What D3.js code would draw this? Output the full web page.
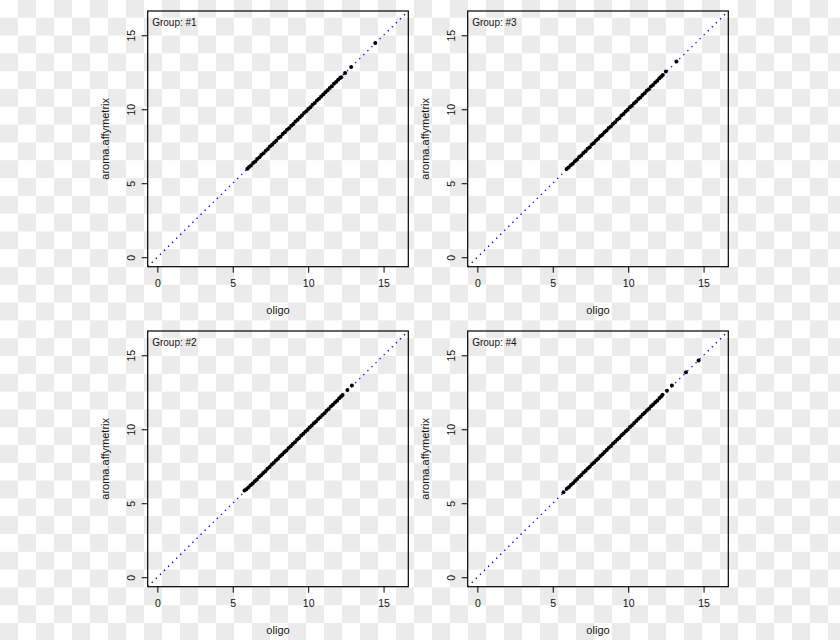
<!DOCTYPE html>
<html>
<head>
<meta charset="utf-8">
<script src="https://cdn.jsdelivr.net/npm/d3@7"></script>
<style>
  html, body { margin: 0; padding: 0; background: #fff; }
  svg { display: block; }
  text { font-family: Arial, "Liberation Sans", sans-serif; fill: #111; }
</style>
</head>
<body>
<div id="chart"></div>
<script>
// ---- data ----
const panelTitles = ["Group: #1", "Group: #3", "Group: #2", "Group: #4"];
const xTitle = "oligo";
const yTitle = "aroma.affymetrix";
const xTicks = [0, 5, 10, 15];
const yTicks = [0, 5, 10, 15];
const axisLimits = [0, 16];

const g1Oligo = [5.97,6.08,6.21,6.35,6.49,6.62,6.77,6.90,7.04,7.19,7.33,7.46,7.61,7.75,7.88,8.03,8.17,8.31,8.45,8.60,8.73,8.88,9.02,9.16,9.30,9.44,9.58,9.73,9.87,10.01,10.15,10.29,10.44,10.58,10.72,10.86,11.00,11.14,11.29,11.43,11.57,11.71,11.85,11.99,12.12,12.19,12.45,12.85,14.45];
const g1Aroma = [5.98,6.10,6.20,6.37,6.47,6.64,6.75,6.92,7.03,7.20,7.31,7.48,7.60,7.76,7.87,8.05,8.15,8.33,8.44,8.61,8.72,8.89,9.01,9.18,9.29,9.45,9.57,9.74,9.86,10.02,10.14,10.30,10.43,10.59,10.71,10.87,10.99,11.15,11.28,11.44,11.56,11.72,11.84,12.00,12.11,12.17,12.45,12.85,14.48];

const g3Oligo = [5.92,6.05,6.19,6.33,6.47,6.61,6.75,6.89,7.03,7.17,7.31,7.45,7.59,7.73,7.87,8.01,8.15,8.29,8.43,8.57,8.71,8.85,8.99,9.13,9.27,9.41,9.55,9.69,9.83,9.97,10.11,10.25,10.39,10.53,10.67,10.81,10.95,11.09,11.23,11.37,11.51,11.65,11.79,11.93,12.07,12.20,12.30,12.50,13.20];
const g3Aroma = [5.97,6.07,6.21,6.32,6.49,6.60,6.77,6.88,7.05,7.16,7.33,7.44,7.61,7.72,7.89,8.00,8.17,8.28,8.45,8.56,8.73,8.84,9.01,9.12,9.29,9.40,9.57,9.68,9.85,9.96,10.13,10.24,10.41,10.52,10.69,10.80,10.97,11.08,11.25,11.36,11.53,11.64,11.81,11.92,12.09,12.21,12.32,12.55,13.22];

const g2Oligo = [5.78,5.90,6.04,6.18,6.32,6.46,6.60,6.74,6.88,7.02,7.16,7.30,7.44,7.58,7.72,7.86,8.00,8.14,8.28,8.42,8.56,8.70,8.84,8.98,9.12,9.26,9.40,9.54,9.68,9.82,9.96,10.10,10.24,10.38,10.52,10.66,10.80,10.94,11.08,11.22,11.36,11.50,11.64,11.78,11.92,12.06,12.18,12.28,12.60,12.90];
const g2Aroma = [5.86,5.94,6.06,6.21,6.33,6.49,6.61,6.77,6.89,7.05,7.17,7.33,7.45,7.61,7.73,7.89,8.01,8.17,8.29,8.45,8.57,8.73,8.85,9.01,9.13,9.29,9.41,9.57,9.69,9.85,9.97,10.13,10.25,10.41,10.53,10.69,10.81,10.97,11.09,11.25,11.37,11.53,11.65,11.81,11.93,12.09,12.21,12.32,12.66,12.96];

const g4Oligo = [5.71,5.93,6.06,6.20,6.34,6.48,6.62,6.76,6.90,7.04,7.18,7.32,7.46,7.60,7.74,7.88,8.02,8.16,8.30,8.44,8.58,8.72,8.86,9.00,9.14,9.28,9.42,9.56,9.70,9.84,9.98,10.12,10.26,10.40,10.54,10.68,10.82,10.96,11.10,11.24,11.38,11.52,11.66,11.80,11.94,12.08,12.20,12.28,12.57,12.90,13.83,14.67];
const g4Aroma = [5.75,5.98,6.08,6.23,6.35,6.51,6.63,6.79,6.91,7.07,7.19,7.35,7.47,7.63,7.75,7.91,8.03,8.19,8.31,8.47,8.59,8.75,8.87,9.03,9.15,9.31,9.43,9.59,9.71,9.87,9.99,10.15,10.27,10.43,10.55,10.71,10.83,10.99,11.11,11.27,11.39,11.55,11.67,11.83,11.95,12.11,12.22,12.33,12.60,12.95,13.86,14.65];

const panelOligo = [g1Oligo, g3Oligo, g2Oligo, g4Oligo];
const panelAroma = [g1Aroma, g3Aroma, g2Aroma, g4Aroma];

// ---- layout ----
const W = 840, H = 640;
const cellW = 320, cellH = 320;
const box = { left: 147.7, top: 11, width: 260.6, height: 255.7 };

const svg = d3.select("#chart").append("svg").attr("width", W).attr("height", H);

// transparent-style checkerboard backdrop
const defs = svg.append("defs");
const pat = defs.append("pattern").attr("id", "checker")
  .attr("patternUnits", "userSpaceOnUse").attr("width", 36).attr("height", 35.6);
pat.append("rect").attr("width", 36).attr("height", 35.6).attr("fill", "#ffffff");
pat.append("rect").attr("x", 18).attr("y", 0).attr("width", 18).attr("height", 17.8).attr("fill", "#ebebeb");
pat.append("rect").attr("x", 0).attr("y", 17.8).attr("width", 18).attr("height", 17.8).attr("fill", "#ebebeb");
svg.append("rect").attr("width", W).attr("height", H).attr("fill", "url(#checker)");

// R-style 4% axis extension
const span = axisLimits[1] - axisLimits[0];
const dom = [axisLimits[0] - 0.04 * span, axisLimits[1] + 0.04 * span];

panelTitles.forEach((title, i) => {
  const col = i % 2, row = Math.floor(i / 2);
  const g = svg.append("g")
    .attr("transform", `translate(${col * cellW + box.left},${row * cellH + box.top})`);

  const x = d3.scaleLinear().domain(dom).range([0, box.width]);
  const y = d3.scaleLinear().domain(dom).range([box.height, 0]);

  const clipId = "clip" + i;
  g.append("clipPath").attr("id", clipId)
    .append("rect").attr("width", box.width).attr("height", box.height);

  const plot = g.append("g").attr("clip-path", `url(#${clipId})`);

  // identity line (abline)
  plot.append("line")
    .attr("x1", x(dom[0])).attr("y1", y(dom[0]))
    .attr("x2", x(dom[1])).attr("y2", y(dom[1]))
    .attr("stroke", "#0000ff").attr("stroke-width", 1.3)
    .attr("stroke-dasharray", "1.4,4.3");

  // points
  const pts = panelOligo[i].map((v, k) => [v, panelAroma[i][k]]);
  plot.selectAll("circle").data(pts).enter().append("circle")
    .attr("cx", d => x(d[0])).attr("cy", d => y(d[1]))
    .attr("r", 2).attr("fill", "#000");

  // frame
  g.append("rect").attr("width", box.width).attr("height", box.height)
    .attr("fill", "none").attr("stroke", "#000").attr("stroke-width", 1.2);

  // x axis
  const xa = g.append("g").attr("transform", `translate(0,${box.height})`)
    .call(d3.axisBottom(x).tickValues(xTicks).tickSize(6).tickPadding(7).tickFormat(d3.format("d")));
  xa.select(".domain").remove();
  xa.selectAll("line").attr("stroke", "#000");
  xa.selectAll("text").attr("font-size", 10.5).attr("fill", "#111")
    .attr("font-family", "Arial, 'Liberation Sans', sans-serif");

  // y axis
  const ya = g.append("g")
    .call(d3.axisLeft(y).tickValues(yTicks).tickSize(6).tickPadding(0).tickFormat(d3.format("d")));
  ya.select(".domain").remove();
  ya.selectAll("line").attr("stroke", "#000");
  ya.selectAll("text").attr("font-size", 10.5).attr("fill", "#111")
    .attr("font-family", "Arial, 'Liberation Sans', sans-serif")
    .attr("text-anchor", "middle")
    .attr("x", null).attr("dy", null)
    .attr("transform", "translate(-16,0) rotate(-90)")
    .attr("y", 0).attr("dy", "0.35em");

  // axis titles
  g.append("text").attr("x", box.width / 2).attr("y", box.height + 47)
    .attr("text-anchor", "middle").attr("font-size", 11).text(xTitle);
  g.append("text")
    .attr("transform", `translate(-39,${box.height / 2}) rotate(-90)`)
    .attr("text-anchor", "middle").attr("font-size", 11).attr("fill", "#2a1420").text(yTitle);

  // panel label
  g.append("text").attr("x", 4.5).attr("y", 15)
    .attr("font-size", 10).text(title);
});
</script>
</body>
</html>
